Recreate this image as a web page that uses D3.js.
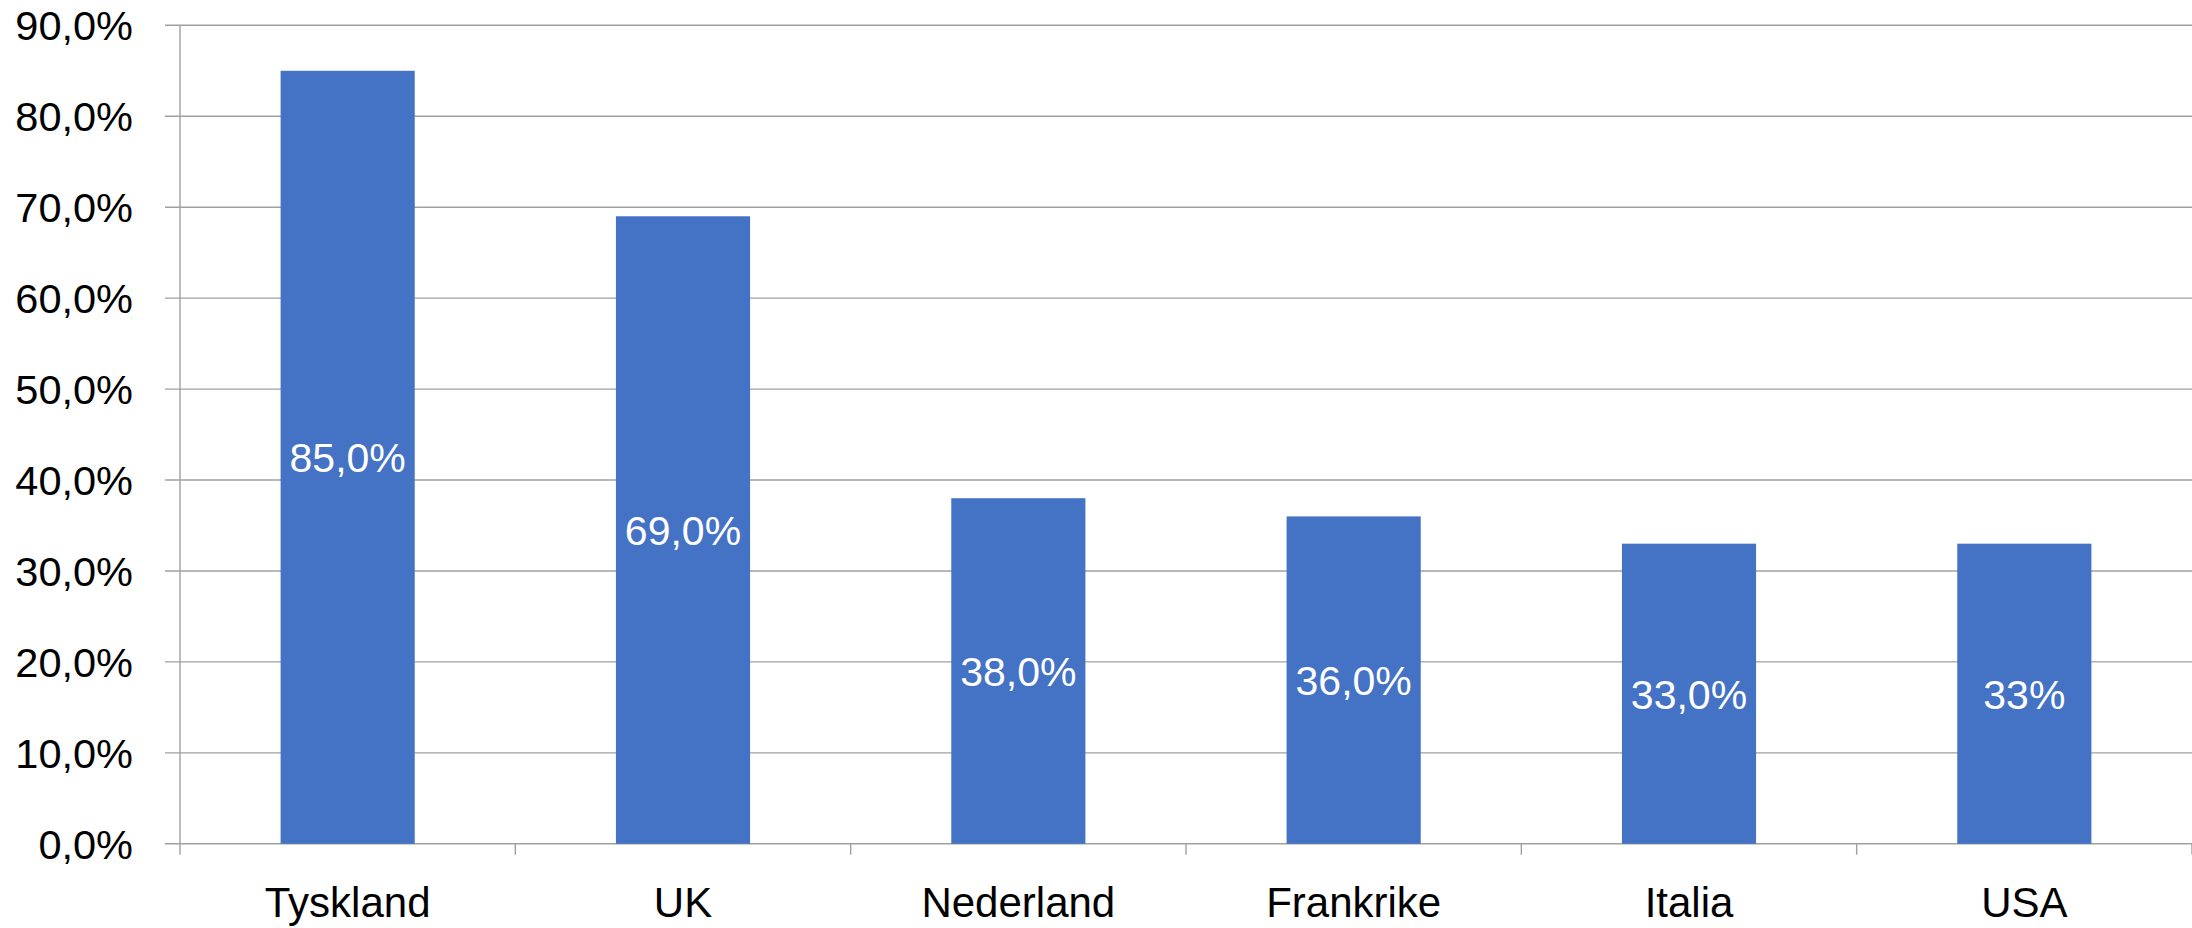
<!DOCTYPE html>
<html>
<head>
<meta charset="utf-8">
<script src="https://cdn.jsdelivr.net/npm/d3@7"></script>
<style>
  html, body { margin: 0; padding: 0; background: #fff; }
  svg { display: block; }
  text { font-family: "Liberation Sans", Arial, sans-serif; }
</style>
</head>
<body>
<svg id="chart" width="2192" height="928"></svg>
<script>
const categories = ["Tyskland", "UK", "Nederland", "Frankrike", "Italia", "USA"];
const values = [85, 69, 38, 36, 33, 33];
const valueLabels = ["85,0%", "69,0%", "38,0%", "36,0%", "33,0%", "33%"];
const yTicks = [0, 10, 20, 30, 40, 50, 60, 70, 80, 90];
const yTickLabels = ["0,0%", "10,0%", "20,0%", "30,0%", "40,0%", "50,0%", "60,0%", "70,0%", "80,0%", "90,0%"];

(function () {
const svg = d3.select("#chart");
const plotLeft = 180, plotRight = 2192, plotTop = 25.3, plotBottom = 843.8;

const x = d3.scaleBand().domain(categories).range([plotLeft, plotRight]).paddingInner(0.6).paddingOuter(0.3);
const xEdge = d3.scaleLinear().domain([0, categories.length]).range([plotLeft, plotRight]);
const y = d3.scaleLinear().domain([0, 90]).range([plotBottom, plotTop]);

const gridColor = "#a0a0a0";

// gridlines
svg.append("g").selectAll("line").data(yTicks).join("line")
  .attr("x1", plotLeft - 15).attr("x2", plotRight)
  .attr("y1", d => y(d)).attr("y2", d => y(d))
  .attr("stroke", gridColor).attr("stroke-width", 1.4);

// y axis line
svg.append("line")
  .attr("x1", plotLeft).attr("x2", plotLeft)
  .attr("y1", plotTop).attr("y2", plotBottom + 11)
  .attr("stroke", gridColor).attr("stroke-width", 1.4);

// bottom ticks
svg.append("g").selectAll("line").data(d3.range(1, categories.length + 1)).join("line")
  .attr("x1", d => xEdge(d)).attr("x2", d => xEdge(d))
  .attr("y1", plotBottom).attr("y2", plotBottom + 11)
  .attr("stroke", gridColor).attr("stroke-width", 1.4);

// bars
svg.append("g").selectAll("rect").data(values).join("rect")
  .attr("x", (d, i) => x(categories[i]))
  .attr("width", x.bandwidth())
  .attr("y", d => y(d))
  .attr("height", d => y(0) - y(d))
  .attr("fill", "#4472C4");

// value labels
svg.append("g").selectAll("text").data(values).join("text")
  .attr("x", (d, i) => x(categories[i]) + x.bandwidth() / 2)
  .attr("y", d => (y(d) + y(0)) / 2 + 15)
  .attr("text-anchor", "middle")
  .attr("fill", "#ffffff")
  .attr("font-size", 41)
  .text((d, i) => valueLabels[i]);

// y tick labels
svg.append("g").selectAll("text").data(yTicks).join("text")
  .attr("x", 133)
  .attr("y", d => y(d) + 15)
  .attr("text-anchor", "end")
  .attr("fill", "#000")
  .attr("font-size", 41.5)
  .text((d, i) => yTickLabels[i]);

// category labels
svg.append("g").selectAll("text").data(categories).join("text")
  .attr("x", d => x(d) + x.bandwidth() / 2)
  .attr("y", 917)
  .attr("text-anchor", "middle")
  .attr("fill", "#000")
  .attr("font-size", 42)
  .text(d => d);
})();
</script>
</body>
</html>
